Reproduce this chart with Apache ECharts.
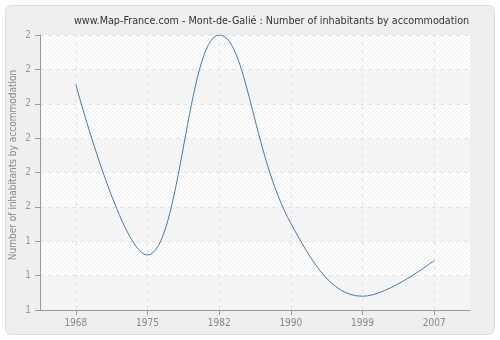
<!DOCTYPE html>
<html><head><meta charset="utf-8">
<script src="https://cdn.jsdelivr.net/npm/echarts@6/dist/echarts.min.js"></script>
<style>html,body{margin:0;padding:0;background:#fff}#c{width:500px;height:340px}</style>
</head><body><div id="c"></div>
<script>
var years = ['1968', '1975', '1982', '1990', '1999', '2007'];
var values = [1.82, 1.20, 2.00, 1.315, 1.05, 1.18];
var yTickLabels = ['1', '1', '1', '2', '2', '2', '2', '2', '2'];
var yMin = 1, yMax = 2, yStep = 0.125;

function makeHatch(bg, fg) {
  var pc = document.createElement('canvas');
  pc.width = 4; pc.height = 4;
  var g = pc.getContext('2d');
  g.fillStyle = bg; g.fillRect(0, 0, 4, 4);
  g.fillStyle = fg;
  for (var i = 0; i < 4; i++) { g.fillRect(i, 3 - i, 1, 1); }
  return {image: pc, repeat: 'repeat'};
}
var hatchWhite = makeHatch('#ffffff', '#efefef');
var hatchGray = makeHatch('#f7f7f7', '#eeeeee');

var chart = echarts.init(document.getElementById('c'), null, {renderer: 'canvas'});
var font = 'DejaVu Sans Condensed, DejaVu Sans';
chart.setOption({
  animation: false,
  backgroundColor: '#ffffff',
  graphic: [{
    type: 'rect', z: -10, silent: true,
    shape: {x: 5.5, y: 5.5, width: 489, height: 329, r: 6},
    style: {fill: '#efefef', stroke: '#dddddd', lineWidth: 1}
  }],
  title: {
    text: 'www.Map-France.com - Mont-de-Galié : Number of inhabitants by accommodation',
    left: 69, top: 11,
    textStyle: {fontFamily: font, fontSize: 10.7, fontWeight: 'normal', color: '#333'}
  },
  grid: {left: 40, right: 30, top: 35, bottom: 30, show: true, backgroundColor: '#ffffff', borderWidth: 0,
    containLabel: false, outerBoundsMode: 'none'},
  xAxis: {
    type: 'category', data: years, boundaryGap: true,
    axisLine: {show: true, lineStyle: {color: '#999', width: 1}},
    axisTick: {show: true, alignWithLabel: true, length: 5, lineStyle: {color: '#999'}},
    axisLabel: {fontFamily: font, fontSize: 10, color: '#888', margin: 8},
    splitLine: {show: false}
  },
  yAxis: {
    type: 'value', min: yMin, max: yMax, interval: yStep,
    name: 'Number of inhabitants by accommodation', nameLocation: 'middle', nameGap: 22,
    nameMoveOverlap: false,
    nameTextStyle: {fontFamily: font, fontSize: 10, color: '#888', padding: [0, 0, 0, 15]},
    axisLine: {show: true, lineStyle: {color: '#999', width: 1}},
    axisTick: {show: true, length: 5, lineStyle: {color: '#999'}},
    axisLabel: {fontFamily: font, fontSize: 10, color: '#999', margin: 9,
      formatter: function (v) { return yTickLabels[Math.round((v - yMin) / yStep)]; }},
    splitLine: {show: true, lineStyle: {color: '#e3e3e3', type: [4, 4], width: 1}},
    splitArea: {show: true, areaStyle: {color: [hatchGray, hatchWhite]}}
  },
  series: [{
    type: 'line', data: values, smooth: 0.4, showSymbol: false, symbol: 'none',
    lineStyle: {color: '#4a76ad', width: 1},
    markLine: {
      silent: true, symbol: 'none', label: {show: false}, z: 1,
      lineStyle: {color: '#e3e3e3', type: [4, 4], width: 1},
      data: years.map(function (y) { return {xAxis: y}; })
    }
  }]
});
</script></body></html>
